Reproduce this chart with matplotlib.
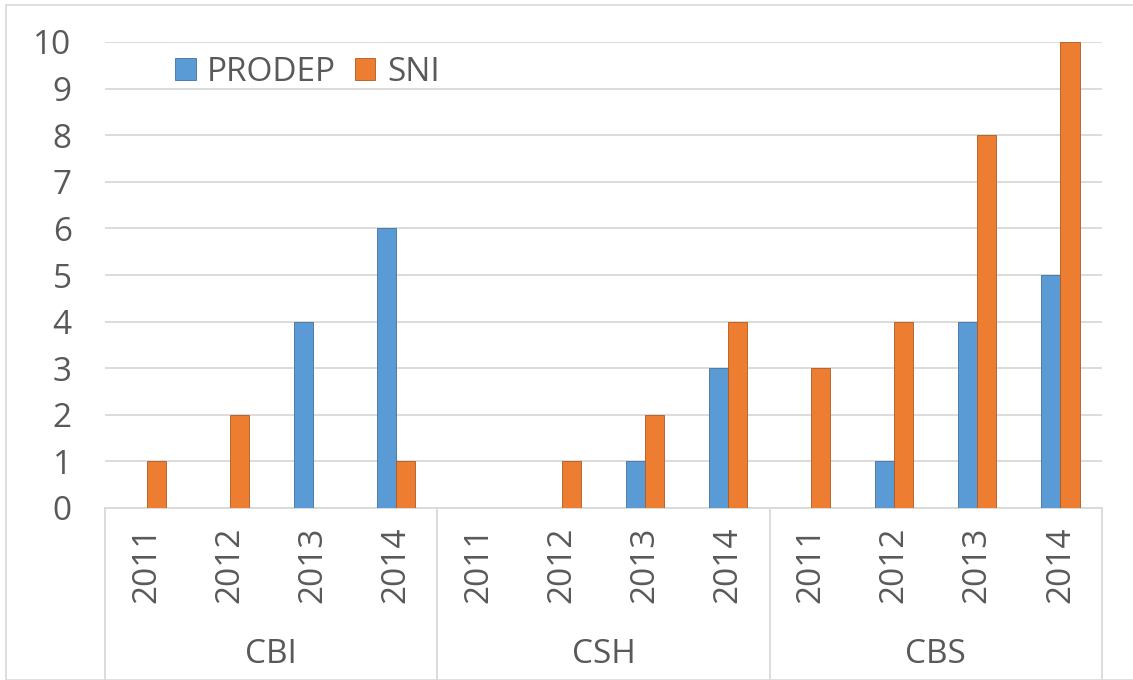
import numpy as np
import matplotlib
matplotlib.use("Agg")
import matplotlib.pyplot as plt
from matplotlib.patches import Rectangle
from matplotlib.transforms import blended_transform_factory

# data
groups = ["CBI", "CSH", "CBS"]
years = ["2011", "2012", "2013", "2014"]
prodep = [0, 0, 4, 6, 0, 0, 1, 3, 0, 1, 4, 5]
sni = [1, 2, 0, 1, 0, 1, 2, 4, 3, 4, 8, 10]

blue = "#5B9BD5"
orange = "#ED7D31"
grid_c = "#D9D9D9"
text_c = "#595959"
fs = 24

plt.rcParams['font.family'] = ['Open Sans', 'DejaVu Sans']

fig = plt.figure(figsize=(11.33, 6.8), dpi=100)
ax = fig.add_axes([105 / 1133, 1 - 508 / 680, (1102 - 105) / 1133, (508 - 42) / 680])

# light frame round the whole chart
fig.patches.append(Rectangle((6 / 1133, 0), 1.0, 1 - 5 / 680, transform=fig.transFigure,
                             fill=False, edgecolor=grid_c, linewidth=1.2))

x = np.arange(len(prodep))
w = 0.23
ax.bar(x - w / 2, prodep, w, color=blue, label="PRODEP", zorder=3,
       edgecolor="#41719C", linewidth=0.6)
ax.bar(x + w / 2, sni, w, color=orange, label="SNI", zorder=3,
       edgecolor="#AE5A21", linewidth=0.6)

ax.set_xlim(-0.5, len(prodep) - 0.5)
ax.set_ylim(0, 10)
ax.set_yticks(range(0, 11))
ax.yaxis.grid(True, color=grid_c, linewidth=1.3, zorder=0)
ax.tick_params(axis='y', length=0, pad=24, labelsize=fs, labelcolor=text_c)
ax.set_xticks([])
for s in ["top", "right", "left"]:
    ax.spines[s].set_visible(False)
ax.spines["bottom"].set_color(grid_c)
ax.spines["bottom"].set_linewidth(1.3)

# two-level category axis
trans = blended_transform_factory(ax.transData, ax.transAxes)
for i in range(len(prodep)):
    ax.text(i, -0.122, years[i % 4], rotation=90, ha="center", va="center",
            fontsize=fs, color=text_c, transform=trans)
for g, name in enumerate(groups):
    ax.text(g * 4 + 1.5, -0.315, name, ha="center", va="center",
            fontsize=fs, color=text_c, transform=trans)
for b in range(len(groups) + 1):
    ax.plot([b * 4 - 0.5, b * 4 - 0.5], [0, -0.37], color=grid_c, linewidth=1.3,
            transform=trans, clip_on=False)

ax.legend(loc="upper left", bbox_to_anchor=(0.04, 1.035), ncol=2, frameon=False,
          fontsize=fs, handlelength=0.62, handleheight=0.62, handletextpad=0.35,
          columnspacing=0.55, labelcolor=text_c)

fig.savefig("out.png", dpi=100)
